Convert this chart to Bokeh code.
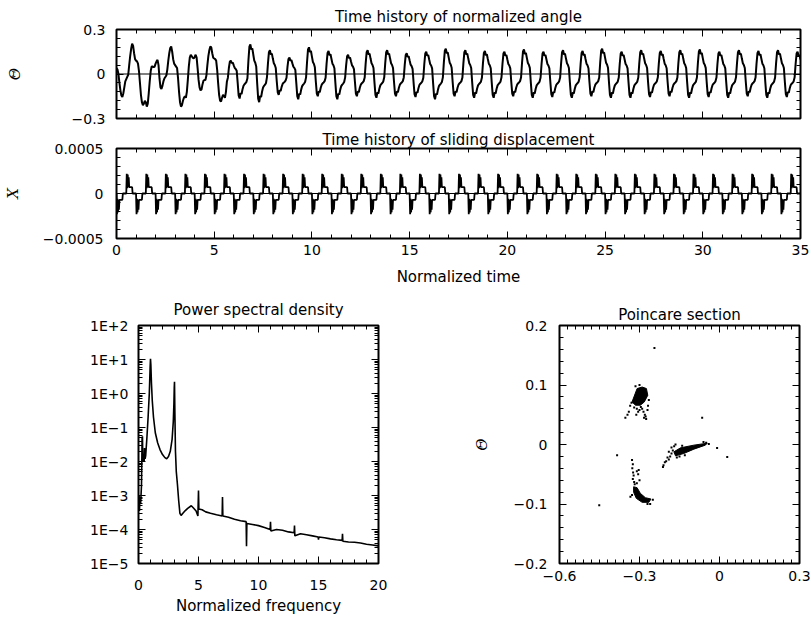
import numpy as np
from bokeh.plotting import figure
from bokeh.layouts import column, row
from bokeh.models import (LinearAxis, LogAxis, Span, SingleIntervalTicker, LogTicker,
                          CustomJSTickFormatter, Range1d)
from bokeh.embed import file_html
from bokeh.resources import INLINE

# ---------------- data ----------------
theta_dt = 0.05
# normalized angle, t = 0.00 ... 5.65 (step 0.05)
theta_transient = [
    0.04, 0.03, 0.00, -0.06, -0.11, -0.145, -0.155, -0.13, -0.09, -0.05,
    -0.035, -0.02, -0.005, 0.06, 0.12, 0.17, 0.205, 0.19, 0.14, 0.10,
    0.09, 0.085, 0.07, 0.02, -0.06, -0.14, -0.19, -0.21, -0.20, -0.18,
    -0.19, -0.22, -0.20, -0.13, -0.05, 0.02, 0.05, 0.05, 0.045, 0.05,
    0.07, 0.085, 0.095, 0.06, -0.03, -0.09, -0.10, -0.08, -0.05, -0.03,
    -0.02, -0.01, 0.03, 0.09, 0.14, 0.175, 0.185, 0.15, 0.10, 0.07,
    0.06, 0.05, 0.04, -0.03, -0.12, -0.19, -0.22, -0.21, -0.18, -0.16,
    -0.15, -0.16, -0.12, -0.04, 0.05, 0.11, 0.13, 0.12, 0.11, 0.105,
    0.115, 0.13, 0.11, 0.04, -0.04, -0.09, -0.11, -0.105, -0.07, -0.045,
    -0.04, -0.04, -0.01, 0.06, 0.12, 0.16, 0.185, 0.18, 0.14, 0.11,
    0.105, 0.10, 0.09, 0.03, -0.06, -0.14, -0.18, -0.185, -0.16, -0.14,
    -0.15, -0.16, -0.12, -0.05,
]
# shape of one steady cycle (20 samples, 0.05 apart), +1 = cycle peak, -1 = cycle trough
theta_cycle_shape = [
    -0.15, 0.45, 0.92, 1.0, 0.82, 0.86, 0.65, 0.45, 0.38, 0.25,
    -0.35, -0.88, -1.0, -0.78, -0.82, -0.62, -0.48, -0.42, -0.38, -0.32,
]
theta_cycle_start = 5.7
theta_peak = [0.09, 0.20, 0.16, 0.11, 0.18, 0.155, 0.13, 0.16, 0.16, 0.14,
              0.15, 0.17, 0.16, 0.155, 0.15, 0.165, 0.15, 0.16, 0.155, 0.17,
              0.15, 0.16, 0.155, 0.16, 0.165, 0.15, 0.16, 0.155, 0.16, 0.15]
theta_trough = [-0.165, -0.19, -0.14, -0.17, -0.15, -0.17, -0.15, -0.16, -0.15, -0.155,
                -0.17, -0.15, -0.16, -0.16, -0.15, -0.16, -0.155, -0.16, -0.15, -0.16,
                -0.16, -0.155, -0.15, -0.16, -0.155, -0.16, -0.15, -0.16, -0.155, -0.15]

# sliding displacement: one stick-slip cycle (40 samples, 0.025 apart)
x_dt = 0.025
x_cycle = [
    0.0, 2.2e-4, 0.6e-4, 2.1e-4, 0.7e-4, 1.8e-4, 0.7e-4, 0.7e-4, 0.7e-4, 0.7e-4,
    0.7e-4, 0.7e-4, 0.7e-4, 0.0, 0.0, 0.0, 0.0, 0.0, 0.0, 0.0,
    0.0, -2.3e-4, -0.6e-4, -2.1e-4, -0.7e-4, -1.8e-4, -0.7e-4, -0.7e-4, -0.7e-4, -0.7e-4,
    -0.7e-4, -0.7e-4, -0.7e-4, 0.0, 0.0, 0.0, 0.0, 0.0, 0.0, 0.0,
]
x_cycle_starts = [k + 0.5 for k in range(-1, 35)]

# power spectral density
psd_freq = [0.0, 0.05, 0.08, 0.12, 0.18, 0.25, 0.30, 0.33, 0.36, 0.42, 0.47, 0.50, 0.55,
            0.60, 0.70, 0.80, 0.90, 0.97, 1.00, 1.03, 1.08, 1.15, 1.25, 1.40, 1.60, 1.80,
            2.00, 2.20, 2.35, 2.50, 2.65, 2.80, 2.90, 2.95, 2.98, 3.00, 3.03, 3.08, 3.15,
            3.25, 3.35, 3.45, 3.55, 3.70, 3.90, 4.10, 4.40, 4.60, 4.80, 4.95, 5.00, 5.03,
            5.30, 5.60, 6.00, 6.50, 6.97, 7.00, 7.03, 7.50, 8.00, 8.50, 8.97, 9.00, 9.03,
            9.50, 10.0, 10.5, 10.97, 11.0, 11.03, 11.5, 12.0, 12.5, 12.97, 13.0, 13.03,
            13.5, 14.0, 14.5, 14.97, 15.0, 15.03, 15.5, 16.0, 16.5, 16.97, 17.0, 17.03,
            17.5, 18.0, 18.5, 19.0, 19.5, 20.0]
psd_value = [4e-4, 1e-3, 3.5e-4, 9e-4, 6e-4, 2e-3, 5e-2, 5.5e-2, 1e-2, 1.2e-2, 1e-2, 2.5e-2, 1.2e-2,
             1.5e-2, 5e-2, 2e-1, 1.0, 6.0, 10.5, 7.0, 2.0, 0.6, 0.2, 0.07, 0.035, 0.022,
             0.016, 0.013, 0.012, 0.014, 0.02, 0.045, 0.15, 0.5, 1.5, 2.2, 0.3, 0.02, 5e-3,
             2e-3, 7e-4, 3e-4, 2.6e-4, 3e-4, 3.6e-4, 4.2e-4, 5e-4, 4.2e-4, 3.5e-4, 2.5e-4, 1.4e-3, 4e-4,
             3.8e-4, 3.3e-4, 3.0e-4, 2.7e-4, 2.5e-4, 9e-4, 2.5e-4, 2.3e-4, 2.0e-4, 1.8e-4, 1.7e-4, 3.2e-5, 1.5e-4,
             1.4e-4, 1.3e-4, 1.15e-4, 1.0e-4, 1.7e-4, 9e-5, 1.0e-4, 9.5e-5, 8.5e-5, 8e-5, 1.3e-4, 6.5e-5,
             7.5e-5, 7e-5, 6.5e-5, 6e-5, 5e-5, 6e-5, 5.7e-5, 5.3e-5, 5e-5, 4.8e-5, 7.5e-5, 4.5e-5,
             4.3e-5, 4.2e-5, 4.0e-5, 3.7e-5, 3.5e-5, 3.3e-5]

# Poincare section: dense cores (outlines) and scattered points
core_a_x = [-0.328, -0.309, -0.290, -0.274, -0.269, -0.282, -0.297, -0.315]
core_a_y = [0.0715, 0.094, 0.0966, 0.094, 0.0827, 0.0715, 0.066, 0.066]
core_b_x = [-0.171, -0.146, -0.096, -0.046, -0.053, -0.096, -0.134, -0.165]
core_b_y = [-0.0123, -0.0056, -0.0011, 0.0022, -0.0011, -0.0078, -0.0151, -0.019]
core_c_x = [-0.322, -0.309, -0.297, -0.278, -0.257, -0.265, -0.290, -0.312, -0.322]
core_c_y = [-0.071, -0.0726, -0.082, -0.0894, -0.0916, -0.0972, -0.0972, -0.0905, -0.0804]
pts_x = [-0.33, -0.335, -0.32, -0.31, -0.305, -0.30, -0.295, -0.29, -0.285, -0.28, -0.277, -0.275,
         -0.283, -0.34, -0.345, -0.353, -0.265, -0.268, -0.27, -0.315, -0.30, -0.312,
         -0.175, -0.18, -0.185, -0.19, -0.195, -0.2, -0.205, -0.21, -0.212, -0.19, -0.18, -0.17,
         -0.16, -0.15, -0.13, -0.06, -0.04, -0.05, -0.165, -0.14,
         -0.328, -0.325, -0.327, -0.324, -0.322, -0.325, -0.32, -0.318, -0.31, -0.305, -0.303,
         -0.30, -0.31, -0.334, -0.328, -0.26, -0.27, -0.25, -0.318,
         -0.244, -0.065, -0.384, 0.029, -0.009, -0.451]
pts_y = [0.07, 0.065, 0.062, 0.06, 0.055, 0.058, 0.063, 0.06, 0.055, 0.05, 0.047, 0.043,
         0.045, 0.055, 0.05, 0.045, 0.075, 0.065, 0.058, 0.098, 0.1, 0.05,
         -0.01, -0.015, -0.02, -0.025, -0.022, -0.028, -0.03, -0.035, -0.038, -0.012, -0.005, -0.003,
         -0.022, -0.02, -0.018, 0.004, 0.001, 0.003, 0.0, -0.002,
         -0.026, -0.033, -0.04, -0.047, -0.052, -0.058, -0.063, -0.067, -0.045, -0.05, -0.043,
         -0.06, -0.065, -0.088, -0.085, -0.1, -0.1, -0.093, -0.075,
         0.162, 0.045, -0.018, -0.021, -0.006, -0.102]

# ---------------- build series from the read values ----------------
th_t = [i * theta_dt for i in range(len(theta_transient))]
th_v = list(theta_transient)
for k, (pk, tr) in enumerate(zip(theta_peak, theta_trough)):
    for j, s in enumerate(theta_cycle_shape):
        t = theta_cycle_start + k + j * theta_dt
        if t <= 35.0 + 1e-9:
            th_t.append(t)
            th_v.append(s * pk if s > 0 else s * -tr)

xs_t, xs_v = [], []
for st in x_cycle_starts:
    for j, v in enumerate(x_cycle):
        t = st + j * x_dt
        if -1e-9 <= t <= 35.0 + 1e-9:
            xs_t.append(t)
            xs_v.append(v)

FONT = "DejaVu Sans"


def fmt(decimals):
    return CustomJSTickFormatter(code=f"""
        if (Math.abs(tick) < 1e-12) return '0';
        return tick.toFixed({decimals}).replace('-', '\\u2212');
    """)


def style_axis(ax, label_standoff=8):
    ax.axis_line_color = None
    ax.major_tick_in = 7
    ax.major_tick_out = 0
    ax.minor_tick_in = 4
    ax.minor_tick_out = 0
    ax.major_tick_line_color = "black"
    ax.minor_tick_line_color = "black"
    ax.major_tick_line_width = 1
    ax.minor_tick_line_width = 1
    ax.major_label_text_font = FONT
    ax.major_label_text_color = "black"
    ax.major_label_text_font_size = "14px"
    ax.major_label_standoff = label_standoff
    ax.axis_label_text_font = FONT
    ax.axis_label_text_font_style = "normal"
    ax.axis_label_text_color = "black"
    ax.axis_label_text_font_size = "15px"


def blank_labels(ax):
    ax.formatter = CustomJSTickFormatter(code="return '';")
    ax.major_label_text_font_size = "1px"
    ax.major_label_standoff = 0


def style_title(t, standoff):
    t.align = "center"
    t.text_font = FONT
    t.text_font_size = "15px"
    t.text_font_style = "normal"
    t.text_color = "black"
    t.standoff = standoff


def base_fig(title=None, title_standoff=2, **kw):
    p = figure(output_backend="svg", toolbar_location=None, title=title, **kw)
    p.outline_line_color = "black"
    p.outline_line_width = 2
    p.outline_line_alpha = 1
    p.xgrid.visible = False
    p.ygrid.visible = False
    p.background_fill_color = "white"
    p.border_fill_color = "white"
    if title:
        style_title(p.title, title_standoff)
    return p


def add_mirrors(p, xticker, yticker, log_y=False):
    top = LinearAxis(ticker=xticker)
    style_axis(top)
    blank_labels(top)
    p.add_layout(top, "above")
    right = LogAxis(ticker=yticker) if log_y else LinearAxis(ticker=yticker)
    style_axis(right)
    blank_labels(right)
    p.add_layout(right, "right")


# ---- top: normalized angle ----
p1 = base_fig("Time history of normalized angle", 8,
              frame_width=684, frame_height=89,
              min_border_left=114, min_border_right=13, min_border_top=29, min_border_bottom=9,
              x_range=Range1d(0, 35), y_range=Range1d(-0.3, 0.3))
xt1 = SingleIntervalTicker(interval=5, num_minor_ticks=5)
yt1 = SingleIntervalTicker(interval=0.3, num_minor_ticks=5)
p1.xaxis.ticker = xt1
p1.yaxis.ticker = yt1
style_axis(p1.xaxis[0])
blank_labels(p1.xaxis[0])
style_axis(p1.yaxis[0], label_standoff=11)
p1.yaxis.formatter = fmt(1)
p1.yaxis.axis_label = "Θ"
p1.yaxis.axis_label_text_font = "DejaVu Serif"
p1.yaxis.axis_label_text_font_style = "italic"
p1.yaxis.axis_label_standoff = 45
add_mirrors(p1, xt1, yt1)
p1.add_layout(Span(location=0, dimension="width", line_color="black", line_width=1))
p1.line(th_t, th_v, line_color="black", line_width=2)

# ---- middle: sliding displacement ----
p2 = base_fig("Time history of sliding displacement", 0,
              frame_width=684, frame_height=90,
              min_border_left=114, min_border_right=13, min_border_top=21, min_border_bottom=52,
              x_range=Range1d(0, 35), y_range=Range1d(-0.0005, 0.0005))
xt2 = SingleIntervalTicker(interval=5, num_minor_ticks=5)
yt2 = SingleIntervalTicker(interval=0.0005, num_minor_ticks=5)
p2.xaxis.ticker = xt2
p2.yaxis.ticker = yt2
style_axis(p2.xaxis[0], label_standoff=6)
style_axis(p2.yaxis[0], label_standoff=13)
p2.xaxis.axis_label = "Normalized time"
p2.xaxis.axis_label_standoff = 10
p2.yaxis.formatter = fmt(4)
p2.yaxis.axis_label = "X"
p2.yaxis.axis_label_text_font = "DejaVu Serif"
p2.yaxis.axis_label_text_font_style = "italic"
p2.yaxis.axis_label_standoff = 18
add_mirrors(p2, xt2, yt2)
p2.add_layout(Span(location=0, dimension="width", line_color="black", line_width=1))
p2.line(xs_t, xs_v, line_color="black", line_width=1.8)

# ---- bottom left: PSD ----
p3 = base_fig("Power spectral density", 14,
              frame_width=240, frame_height=238, y_axis_type="log",
              min_border_left=138, min_border_right=40, min_border_top=35, min_border_bottom=55,
              x_range=Range1d(0, 20), y_range=Range1d(1e-5, 1e2))
xt3 = SingleIntervalTicker(interval=5, num_minor_ticks=5)
yt3 = LogTicker(mantissas=[1], num_minor_ticks=10, desired_num_ticks=8)
p3.xaxis.ticker = xt3
p3.yaxis.ticker = yt3
style_axis(p3.xaxis[0], label_standoff=16)
style_axis(p3.yaxis[0], label_standoff=10)
p3.xaxis.axis_label = "Normalized frequency"
p3.xaxis.axis_label_standoff = 4
p3.xaxis.formatter = fmt(0)
p3.yaxis.formatter = CustomJSTickFormatter(code="""
    const e = Math.round(Math.log10(tick));
    return '1E' + (e >= 0 ? '+' : '\\u2212') + Math.abs(e);
""")
add_mirrors(p3, xt3, yt3, log_y=True)
p3.line(psd_freq, psd_value, line_color="black", line_width=1.6)

# ---- bottom right: Poincare section ----
p4 = base_fig("Poincare section", 3,
              frame_width=240, frame_height=238,
              min_border_left=141, min_border_right=12, min_border_top=35, min_border_bottom=55,
              x_range=Range1d(-0.6, 0.3), y_range=Range1d(-0.2, 0.2))
xt4 = SingleIntervalTicker(interval=0.3, num_minor_ticks=10)
yt4 = SingleIntervalTicker(interval=0.1, num_minor_ticks=5)
p4.xaxis.ticker = xt4
p4.yaxis.ticker = yt4
style_axis(p4.xaxis[0], label_standoff=7)
style_axis(p4.yaxis[0], label_standoff=12)
p4.xaxis.formatter = fmt(1)
p4.yaxis.formatter = fmt(1)
p4.yaxis.axis_label = "Θ"
p4.yaxis.axis_label_text_font = "DejaVu Serif"
p4.yaxis.axis_label_text_font_style = "italic"
p4.yaxis.axis_label_standoff = 20
add_mirrors(p4, xt4, yt4)
p4.patches([core_a_x, core_b_x, core_c_x], [core_a_y, core_b_y, core_c_y],
           fill_color="black", line_color="black", line_width=1)
p4.scatter(pts_x, pts_y, marker="square", size=2, fill_color="black", line_color=None)

layout = column(p1, p2, row(p3, p4, spacing=0), spacing=0)
open("out.html", "w").write(file_html(layout, INLINE))
